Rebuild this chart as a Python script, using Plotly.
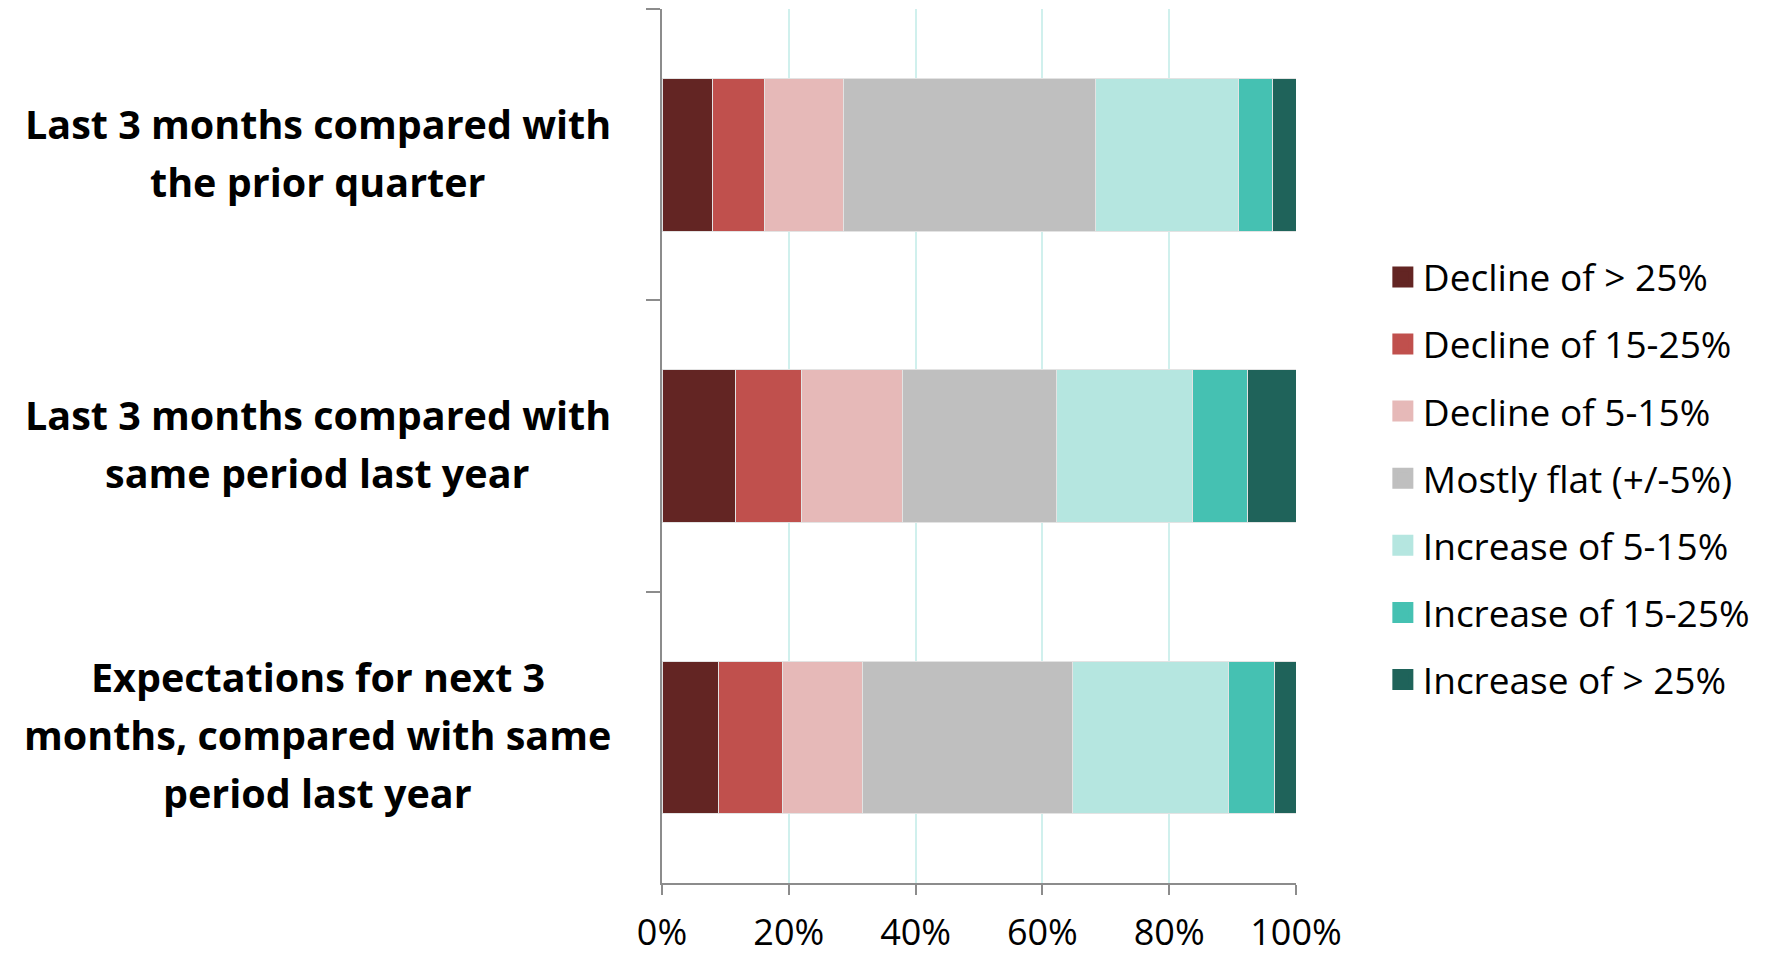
import plotly.graph_objects as go

categories = [
    "Last 3 months compared with the prior quarter",
    "Last 3 months compared with same period last year",
    "Expectations for next 3 months, compared with same period last year",
]
category_lines = [
    ["Last 3 months compared with", "the prior quarter"],
    ["Last 3 months compared with", "same period last year"],
    ["Expectations for next 3", "months, compared with same", "period last year"],
]

series_names = [
    "Decline of > 25%",
    "Decline of 15-25%",
    "Decline of 5-15%",
    "Mostly flat (+/-5%)",
    "Increase of 5-15%",
    "Increase of 15-25%",
    "Increase of > 25%",
]
decline_gt25 = [7.9, 11.6, 8.9]
decline_15_25 = [8.2, 10.4, 10.1]
decline_5_15 = [12.5, 15.9, 12.7]
mostly_flat = [39.8, 24.4, 33.1]
increase_5_15 = [22.5, 21.4, 24.6]
increase_15_25 = [5.4, 8.6, 7.2]
increase_gt25 = [3.7, 7.7, 3.4]
series_values = [decline_gt25, decline_15_25, decline_5_15, mostly_flat,
                 increase_5_15, increase_15_25, increase_gt25]

colors = ["#632523", "#C0504D", "#E6B9B8", "#BFBFBF", "#B5E6E0", "#45C1B2", "#1F635A"]

x_ticks = [0, 20, 40, 60, 80, 100]
x_tick_labels = ["0%", "20%", "40%", "60%", "80%", "100%"]

FONT = "Open Sans"

fig = go.Figure()
for name, vals, col in zip(series_names, series_values, colors):
    fig.add_trace(go.Bar(
        y=categories, x=vals, name=name, orientation="h",
        marker=dict(color=col, line=dict(color="#e3e3e3", width=1)),
        showlegend=False,
    ))
# legend entries (larger square swatches)
for i, (name, col) in enumerate(zip(series_names, colors)):
    fig.add_trace(go.Scatter(
        x=[None], y=[None], mode="markers", name=name,
        marker=dict(symbol="square", size=16, color=col, line=dict(color=col, width=5)),
        legendgroup=f"g{i}", showlegend=True,
    ))

# category labels, centred text blocks left of the axis
LINE_H = 58
for cat, lines in zip(categories, category_lines):
    n = len(lines)
    for j, line in enumerate(lines):
        fig.add_annotation(
            x=-0.5426, xref="paper", y=cat, yref="y",
            text=f"<b>{line}</b>", showarrow=False, xanchor="center", yanchor="middle",
            yshift=((n - 1) / 2 - j) * LINE_H + 2,
            font=dict(family=FONT, size=39.5, color="black"),
        )

fig.update_layout(
    width=1780, height=956,
    margin=dict(l=662, r=484, t=9, b=73, autoexpand=False),
    paper_bgcolor="white", plot_bgcolor="white",
    barmode="stack", bargap=0.476,
    font=dict(family=FONT, size=36, color="black"),
    legend=dict(
        x=1.137, xanchor="left", y=0.463, yanchor="middle",
        font=dict(family=FONT, size=37, color="black"),
        tracegroupgap=16, bgcolor="rgba(0,0,0,0)",
    ),
    xaxis=dict(
        range=[0, 100], tickvals=x_ticks, ticktext=x_tick_labels,
        showgrid=True, gridcolor="#d0f0ed", gridwidth=2,
        showline=True, linecolor="#8c8c8c", linewidth=1.5,
        ticks="outside", ticklen=10, tickcolor="#8c8c8c", tickwidth=1.5,
        ticklabelstandoff=7, zeroline=False, automargin=False,
        tickfont=dict(family=FONT, size=36, color="black"),
    ),
    yaxis=dict(
        categoryorder="array", categoryarray=categories,
        autorange="reversed", showticklabels=False,
        showline=True, linecolor="#8c8c8c", linewidth=1.5,
        ticks="outside", tickson="boundaries", ticklen=14,
        tickcolor="#8c8c8c", tickwidth=1.5, showgrid=False, zeroline=False,
        automargin=False,
    ),
)

fig.write_html("out.html")
